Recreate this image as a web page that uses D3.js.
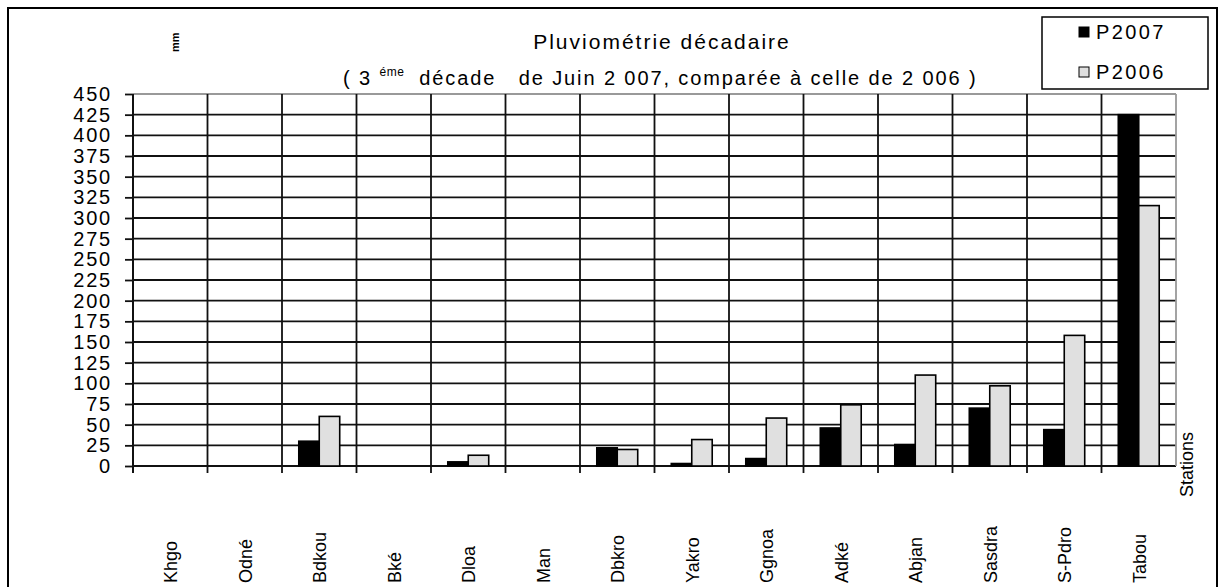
<!DOCTYPE html>
<html>
<head>
<meta charset="utf-8">
<script src="https://cdn.jsdelivr.net/npm/d3@7"></script>
<style>
  body { margin: 0; background: #fff; }
  svg { display: block; font-family: 'Liberation Sans', Arial, sans-serif; }
</style>
</head>
<body>
<script>
// data
const STATIONS = ['Khgo', 'Odné', 'Bdkou', 'Bké', 'Dloa', 'Man', 'Dbkro', 'Yakro', 'Ggnoa', 'Adké', 'Abjan', 'Sasdra', 'S-Pdro', 'Tabou'];
const P2007 = [0, 0, 30, 0, 5, 0, 22, 3, 9, 46, 26, 70, 44, 425];
const P2006 = [0, 0, 60, 0, 13, 0, 20, 32, 58, 74, 110, 97, 158, 315];
const SERIES = ['P2007', 'P2006'];
const Y_TICKS = d3.range(0, 451, 25);

const SVG_DIM = {W: 1228, H: 587};
const PLOT = {LEFT: 133, RIGHT: 1176, TOP: 94, BOTTOM: 466};
const COLORS = {P2007: '#000000', P2006: '#e0e0e0'};

const svg = d3.select('body').append('svg')
    .attr('width', SVG_DIM.W)
    .attr('height', SVG_DIM.H);

// outer frame
svg.append('rect')
    .attr('x', 8).attr('y', 8)
    .attr('width', 1209).attr('height', 620)
    .attr('fill', '#fff')
    .attr('stroke', '#000')
    .attr('stroke-width', 2);

// scales
const x0 = d3.scaleBand()
    .domain(STATIONS)
    .range([PLOT.LEFT, PLOT.RIGHT])
    .padding(0);

const x1 = d3.scaleBand()
    .domain(SERIES)
    .range([0, x0.bandwidth()])
    .paddingInner(0)
    .paddingOuter(0.82);

const y = d3.scaleLinear()
    .domain([0, 450])
    .range([PLOT.BOTTOM, PLOT.TOP]);

// horizontal grid
svg.append('g')
    .selectAll('line')
    .data(Y_TICKS)
    .enter()
    .append('line')
    .attr('x1', PLOT.LEFT).attr('x2', PLOT.RIGHT)
    .attr('y1', d => y(d)).attr('y2', d => y(d))
    .attr('stroke', d => d === 450 ? '#999' : '#111')
    .attr('stroke-width', 1.8);

// vertical category lines
svg.append('g')
    .selectAll('line')
    .data(STATIONS.slice(1))
    .enter()
    .append('line')
    .attr('x1', d => x0(d)).attr('x2', d => x0(d))
    .attr('y1', PLOT.TOP).attr('y2', PLOT.BOTTOM + 7)
    .attr('stroke', '#111')
    .attr('stroke-width', 1.8);

// right edge of plot area
svg.append('line')
    .attr('x1', PLOT.RIGHT).attr('x2', PLOT.RIGHT)
    .attr('y1', PLOT.TOP).attr('y2', PLOT.BOTTOM)
    .attr('stroke', '#999')
    .attr('stroke-width', 1.8);

// bars
const rows = STATIONS.map((s, i) => ({station: s, P2007: P2007[i], P2006: P2006[i]}));

svg.append('g')
    .selectAll('g')
    .data(rows)
    .enter()
    .append('g')
    .attr('transform', d => 'translate(' + x0(d.station) + ',0)')
    .selectAll('rect')
    .data(d => SERIES.map(k => ({key: k, value: d[k]})).filter(a => a.value > 0))
    .enter()
    .append('rect')
    .attr('x', d => x1(d.key))
    .attr('width', x1.bandwidth())
    .attr('y', d => y(d.value))
    .attr('height', d => y(0) - y(d.value))
    .attr('fill', d => COLORS[d.key])
    .attr('stroke', '#000')
    .attr('stroke-width', 1.6);

// y axis
const yAxis = d3.axisLeft(y)
    .tickValues(Y_TICKS)
    .tickSize(8)
    .tickPadding(13)
    .tickFormat(d3.format('d'));

const yg = svg.append('g')
    .attr('transform', 'translate(' + PLOT.LEFT + ',0)')
    .call(yAxis);
yg.select('.domain').remove();
yg.selectAll('.tick line').attr('stroke', '#111').attr('stroke-width', 1.8);
yg.selectAll('.tick text')
    .attr('fill', '#000')
    .style('font-family', "'Liberation Sans', Arial, sans-serif")
    .style('font-size', '20px')
    .style('letter-spacing', '1.8px');
yg.append('line')
    .attr('x1', 0).attr('x2', 0)
    .attr('y1', PLOT.TOP).attr('y2', PLOT.BOTTOM + 7)
    .attr('stroke', '#111')
    .attr('stroke-width', 2);

// category labels
svg.append('g')
    .selectAll('text')
    .data(STATIONS)
    .enter()
    .append('text')
    .attr('transform', d => 'translate(' + (x0(d) + x0.bandwidth() / 2 + 7) + ',583) rotate(-90)')
    .attr('text-anchor', 'start')
    .style('font-size', '18px')
    .text(d => d);

// axis titles
svg.append('text')
    .attr('transform', 'translate(1193,497) rotate(-90)')
    .style('font-size', '18px')
    .text('Stations');

svg.append('text')
    .attr('transform', 'translate(179,52) rotate(-90)')
    .style('font-size', '11px')
    .style('font-weight', 'bold')
    .text('mm');

// title
svg.append('text')
    .attr('x', 662).attr('y', 49)
    .attr('text-anchor', 'middle')
    .style('font-size', '21px')
    .style('letter-spacing', '2px')
    .text('Pluviométrie décadaire');

const sub = svg.append('text')
    .attr('x', 343).attr('y', 85)
    .style('font-size', '20px')
    .style('letter-spacing', '1.9px')
    .style('white-space', 'pre');
sub.append('tspan').text('( 3 ');
sub.append('tspan')
    .attr('dy', -9)
    .style('font-size', '12px')
    .style('letter-spacing', '0.5px')
    .text('éme');
sub.append('tspan')
    .attr('dy', 9)
    .text('  décade   de Juin 2 007, comparée à celle de 2 006 )');

// legend
const legend = svg.append('g').attr('id', 'legend');
legend.append('rect')
    .attr('x', 1042).attr('y', 17)
    .attr('width', 166).attr('height', 72)
    .attr('fill', '#fff')
    .attr('stroke', '#000')
    .attr('stroke-width', 1.5);

const item = legend.selectAll('.item')
    .data(SERIES)
    .enter()
    .append('g')
    .attr('class', 'item')
    .attr('transform', (d, i) => 'translate(1079,' + (27 + i * 40) + ')');
item.append('rect')
    .attr('width', 10).attr('height', 10)
    .attr('fill', d => COLORS[d])
    .attr('stroke', '#000')
    .attr('stroke-width', 1);
item.append('text')
    .attr('x', 17).attr('y', 12)
    .style('font-size', '20px')
    .style('letter-spacing', '2.4px')
    .text(d => d);
</script>
</body>
</html>
